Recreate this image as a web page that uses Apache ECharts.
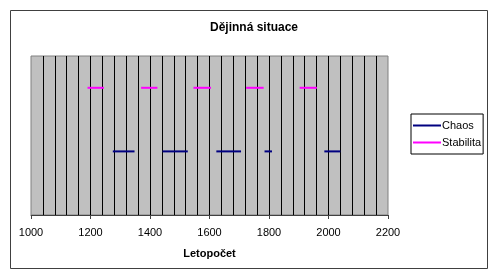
<!DOCTYPE html>
<html>
<head>
<meta charset="utf-8">
<script src="https://cdn.jsdelivr.net/npm/echarts@6/dist/echarts.min.js"></script>
<style>
html,body{margin:0;padding:0;background:#fff;}
#c{width:500px;height:280px;}
</style>
</head>
<body>
<div id="c"></div>
<script>
// Data
const titleText = "Dějinná situace";
const xAxisName = "Letopočet";
const seriesNames = ["Chaos", "Stabilita"];
const chaosStarts = [1275, 1442, 1623, 1785, 1986];
const chaosEnds   = [1348, 1527, 1706, 1810, 2040];
const chaosLevel = 2;
const stabStarts = [1190, 1370, 1546, 1723, 1903];
const stabEnds   = [1245, 1425, 1605, 1782, 1961];
const stabLevel = 4;
const xTicks = [1000, 1200, 1400, 1600, 1800, 2000, 2200];

const colors = {Chaos: "#000080", Stabilita: "#ff00ff"};
const font = "'Liberation Sans', Arial, sans-serif";

function segSeries(name, starts, ends, level) {
  return starts.map((s, i) => ({
    name: name,
    type: "line",
    symbol: "none",
    silent: true,
    color: colors[name],
    lineStyle: {color: colors[name], width: 2},
    itemStyle: {color: colors[name]},
    data: [[s, level], [ends[i], level]]
  }));
}

const chart = echarts.init(document.getElementById("c"), null, {renderer: "canvas"});
chart.setOption({
  animation: false,
  backgroundColor: "#fff",
  title: {
    text: titleText,
    left: 249, top: 17, textAlign: "center",
    textStyle: {fontFamily: font, fontSize: 12, fontWeight: "bold", color: "#000"}
  },
  graphic: [{
    type: "rect", silent: true, z: -1,
    shape: {x: 10.5, y: 10.5, width: 477, height: 258},
    style: {fill: null, stroke: "#404040", lineWidth: 1}
  }],
  legend: {
    orient: "vertical",
    left: 411, top: 114,
    padding: [5, 2, 5, 2],
    itemGap: 4,
    itemWidth: 28, itemHeight: 2,
    icon: "path://M0,0 H28 V2 H0 Z",
    backgroundColor: "#fff",
    borderColor: "#000", borderWidth: 1,
    data: seriesNames,
    textStyle: {fontFamily: font, fontSize: 11, lineHeight: 13, color: "#000", padding: [0,0,0,-4]},
    selectedMode: false
  },
  grid: {
    left: 31, top: 56, width: 357, height: 159,
    show: true, backgroundColor: "#c0c0c0", borderColor: "#808080", borderWidth: 1
  },
  xAxis: {
    type: "value",
    min: xTicks[0], max: xTicks[xTicks.length - 1], interval: 200,
    name: xAxisName, nameLocation: "middle", nameGap: 33,
    nameTextStyle: {fontFamily: font, fontSize: 11, fontWeight: "bold", color: "#000"},
    axisLine: {show: true, onZero: false, lineStyle: {color: "#404040", width: 1}},
    axisTick: {show: true, length: 4, lineStyle: {color: "#404040"}},
    axisLabel: {fontFamily: font, fontSize: 11, color: "#000", margin: 12,
      formatter: v => String(v)},
    splitLine: {show: true, showMinLine: false, showMaxLine: false, lineStyle: {color: "#000", width: 1}},
    minorTick: {show: false, splitNumber: 5},
    minorSplitLine: {show: true, lineStyle: {color: "#000", width: 1}}
  },
  yAxis: {
    type: "value", min: 0, max: 5,
    show: false,
    splitLine: {show: false}
  },
  series: [].concat(
    segSeries("Chaos", chaosStarts, chaosEnds, chaosLevel),
    segSeries("Stabilita", stabStarts, stabEnds, stabLevel)
  )
});
</script>
</body>
</html>
